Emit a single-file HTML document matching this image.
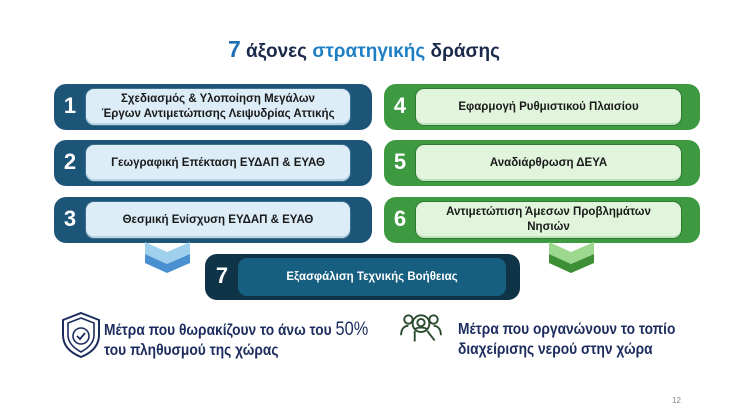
<!DOCTYPE html>
<html><head><meta charset="utf-8"><style>
*{margin:0;padding:0;box-sizing:border-box}
body{width:752px;height:405px;background:#fff;position:relative;overflow:hidden;font-family:"Liberation Sans",sans-serif}
.a{position:absolute}
.o{position:absolute;border-radius:12px}
.in{position:absolute;border-radius:9px;display:flex;align-items:center;justify-content:center;text-align:center;font-weight:bold;font-size:11.5px;line-height:15px;color:#1a1a1a}
.n{position:absolute;color:#fff;font-weight:bold;font-size:22px;width:30px;text-align:center}
.b .o{background:#1c5578}
.b .in{background:#dcedf8;border:1.5px solid #3d6f8e;box-shadow:inset 0 -2px 0 #b9d3e6}
.g .o{background:#3d9a40}
.g .in{background:#e0f5dc;border:1.5px solid #2f7a33;box-shadow:inset 0 -2px 0 #c0e2bb}
.t{font-weight:bold;font-size:16px;color:#1c2c5e;line-height:20px;transform:scaleX(0.86);transform-origin:0 0;white-space:nowrap}
</style></head><body>
<div class="a" style="left:0;top:36px;width:728px;text-align:center;font-weight:bold;font-size:19px;color:#1b2a4a"><span style="color:#1f6fb5;font-size:23px">7</span> άξονες <span style="color:#1f7fc4">στρατηγικής</span> δράσης</div>

<div class="b">
<div class="o" style="left:54px;top:84px;width:318px;height:46px"></div>
<div class="in" style="left:85px;top:88px;width:266px;height:38px">Σχεδιασμός &amp; Υλοποίηση Μεγάλων<br>Έργων Αντιμετώπισης Λειψυδρίας Αττικής</div>
<div class="n" style="left:55px;top:93px">1</div>
<div class="o" style="left:54px;top:140px;width:318px;height:46px"></div>
<div class="in" style="left:85px;top:144px;width:266px;height:38px">Γεωγραφική Επέκταση ΕΥΔΑΠ &amp; ΕΥΑΘ</div>
<div class="n" style="left:55px;top:149px">2</div>
<div class="o" style="left:54px;top:197px;width:318px;height:46px"></div>
<div class="in" style="left:85px;top:201px;width:266px;height:38px">Θεσμική Ενίσχυση ΕΥΔΑΠ &amp; ΕΥΑΘ</div>
<div class="n" style="left:55px;top:206px">3</div>
</div>

<div class="g">
<div class="o" style="left:384px;top:84px;width:316px;height:46px"></div>
<div class="in" style="left:415px;top:88px;width:267px;height:38px">Εφαρμογή Ρυθμιστικού Πλαισίου</div>
<div class="n" style="left:385px;top:93px">4</div>
<div class="o" style="left:384px;top:140px;width:316px;height:46px"></div>
<div class="in" style="left:415px;top:144px;width:267px;height:38px">Αναδιάρθρωση ΔΕΥΑ</div>
<div class="n" style="left:385px;top:149px">5</div>
<div class="o" style="left:384px;top:197px;width:316px;height:46px"></div>
<div class="in" style="left:415px;top:201px;width:267px;height:38px">Αντιμετώπιση Άμεσων Προβλημάτων<br>Νησιών</div>
<div class="n" style="left:385px;top:206px">6</div>
</div>

<svg class="a" style="left:145px;top:242px" width="45" height="32"><polygon points="0,0 22,10 45,0 45,12 22,22 0,12" fill="#9fd0ee"/><polygon points="0,12 22,22 45,12 45,21 22,31 0,21" fill="#4a90d0"/></svg>
<svg class="a" style="left:549px;top:242px" width="45" height="32"><polygon points="0,0 22,10 45,0 45,12 22,22 0,12" fill="#9dd88f"/><polygon points="0,12 22,22 45,12 45,21 22,31 0,21" fill="#3c8f35"/></svg>

<div class="o" style="left:205px;top:254px;width:315px;height:46px;background:#0f3347"></div>
<div class="in" style="left:238px;top:258px;width:268px;height:38px;background:#175f80;color:#fff;font-size:11.5px">Εξασφάλιση Τεχνικής Βοήθειας</div>
<div class="n" style="left:207px;top:263px">7</div>

<svg class="a" style="left:59px;top:311px" width="44" height="48" viewBox="0 0 42 48"><path d="M21 2 L39 9 V24 C39 35 31 42 21 46 C11 42 3 35 3 24 V9 Z" fill="none" stroke="#1c2c5e" stroke-width="2"/><path d="M21 7 L34 12 V24 C34 32 28 37 21 41 C14 37 8 32 8 24 V12 Z" fill="none" stroke="#1c2c5e" stroke-width="1.6"/><circle cx="21" cy="25" r="8" fill="none" stroke="#1c2c5e" stroke-width="1.6"/><path d="M17 25 L20 28 L25 22" fill="none" stroke="#1c2c5e" stroke-width="1.8"/></svg>
<div class="a t" style="left:104px;top:320px">Μέτρα που θωρακίζουν το άνω του <span style="font-weight:normal;font-size:19px">50%</span><br>του πληθυσμού της χώρας</div>

<svg class="a" style="left:399px;top:312px" width="44" height="38" viewBox="0 0 42 36" fill="none" stroke="#2a4a2e" stroke-width="1.8"><circle cx="21" cy="11" r="8"/><circle cx="21" cy="10" r="3.5"/><path d="M15 17 C16 14 26 14 27 17"/><circle cx="9" cy="7" r="4"/><circle cx="33" cy="7" r="4"/><path d="M2 22 C2 15 6 13 9 13"/><path d="M40 22 C40 15 36 13 33 13"/><path d="M27 18 L34 27"/><path d="M15 18 V28"/></svg>
<div class="a t" style="left:458px;top:320px">Μέτρα που οργανώνουν το τοπίο<br>διαχείρισης νερού στην χώρα</div>

<div class="a" style="left:672px;top:396px;font-size:8px;color:#888">12</div>
</body></html>
